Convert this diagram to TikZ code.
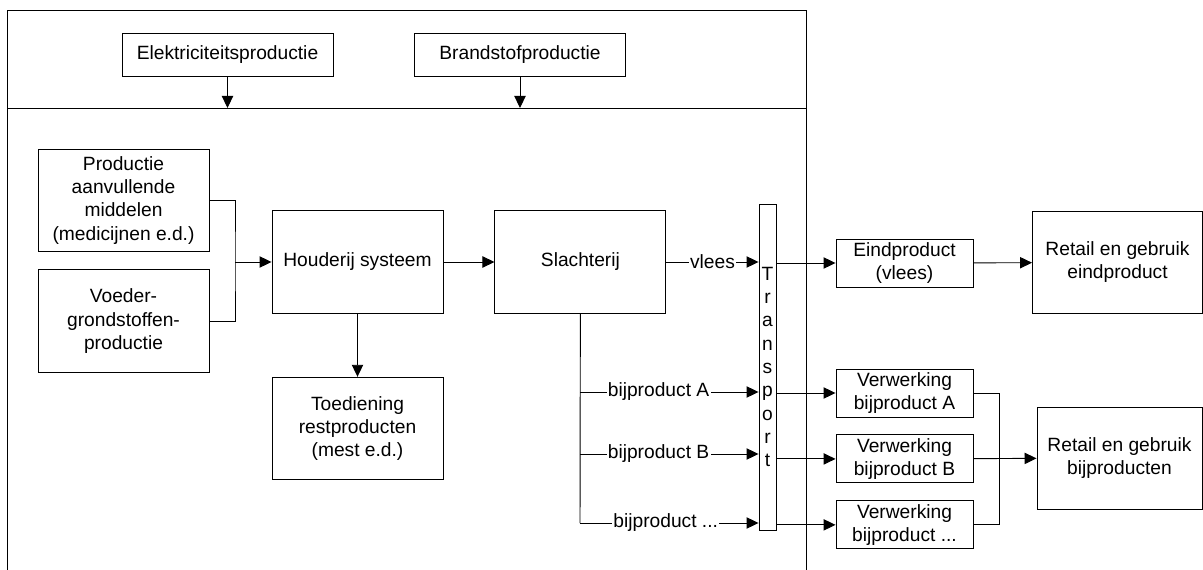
\documentclass[tikz,border=0pt]{standalone}
\usepackage{fontspec}
\setmainfont{Liberation Sans}
\usepackage{tikz}
\usetikzlibrary{
  arrows.meta,
  positioning,
  calc
}
\newcommand{\diagfont}{\fontsize{14.4}{17.3}\selectfont}
\tikzstyle{procbox} = [
  rectangle, draw, line width=0.7pt, inner sep=0pt,
  minimum width=128.25pt, minimum height=77pt,
  align=center, font=\diagfont
]
\tikzstyle{topbox} = [procbox, minimum width=158.25pt, minimum height=32.25pt]
\tikzstyle{smallbox} = [procbox, minimum width=102.75pt, minimum height=36pt]
\tikzstyle{barbox} = [procbox, minimum width=12.75pt, minimum height=244.5pt,
  font=\fontsize{14.4}{17.5}\selectfont]
\tikzstyle{flowlabel} = [fill=white, inner sep=1pt, font=\diagfont]
\tikzstyle{linestyle} = [line width=0.7pt]
\tikzstyle{arrowstyle} = [-{Triangle[length=9pt,width=8.5pt]}, line width=0.7pt]

\begin{document}
\begin{tikzpicture}[x=0.75pt, y=-0.75pt]
\useasboundingbox (0,0) rectangle (1203,570);

% --- Frame ---
\coordinate (frameTL) at (7,10);
\coordinate (frameTR) at (806,10);
\coordinate (divL) at (7,108);
\coordinate (divR) at (806,108);
\draw[linestyle] (7,572) -- (frameTL) -- (frameTR) -- (806,572);
\draw[linestyle] (divL) -- (divR);

% --- Energy inputs ---
\node[topbox] (elek) at (227.5,54.5) {Elektriciteitsproductie};
\node[topbox] (brand) at (520,54.5) {Brandstofproductie};

% --- Farm chain ---
\node[procbox] (prod) at (123.5,200.5) {Productie\\aanvullende\\middelen\\(medicijnen e.d.)};
\node[procbox, below=12.75pt of prod] (voeder) {Voeder-\\grondstoffen-\\productie};
\node[procbox] (houderij) at (357.5,262) {Houderij systeem};
\node[procbox, below=47.25pt of houderij] (toed) {Toediening\\restproducten\\(mest e.d.)};
\node[procbox, right=38.25pt of houderij] (slacht) {Slachterij};
\node[barbox] (transport) at (767.5,367) {T\\r\\a\\n\\s\\p\\o\\r\\t};

% --- Processing and retail ---
\node[smallbox] (eind) at (904.5,263) {Eindproduct\\(vlees)};
\node[procbox, minimum width=127.5pt] (retailE) at (1117.5,262.5) {Retail en gebruik\\eindproduct};
\node[smallbox] (verwA) at (904.5,393) {Verwerking\\bijproduct A};
\node[smallbox, below=12.75pt of verwA] (verwB) {Verwerking\\bijproduct B};
\node[smallbox, below=12.75pt of verwB] (verwC) {Verwerking\\bijproduct ...};
\node[procbox, minimum width=123.75pt, minimum height=76.5pt] (retailB) at (1119.5,458) {Retail en gebruik\\bijproducten};

% --- Arrows ---
\draw[arrowstyle] (elek.south) -- (elek.south |- divL);
\draw[arrowstyle] (brand.south) -- (brand.south |- divL);

\coordinate (join) at (235,262);
\draw[linestyle] (prod.east) -| (join) |- (voeder.east);
\draw[arrowstyle] (join) -- (houderij.west);
\draw[arrowstyle] (houderij) -- (slacht);
\draw[arrowstyle] (houderij) -- (toed);

\draw[arrowstyle] (slacht) -- (slacht -| transport.west) node[flowlabel, midway] {vlees};

\coordinate (bA) at (580,392);
\coordinate (bB) at (580,454);
\coordinate (bC) at (580,523);
\draw[linestyle] (slacht) -- (bC);
\draw[arrowstyle] (bA) -- (bA -| transport.west) node[flowlabel, pos=.44] {bijproduct A};
\draw[arrowstyle] (bB) -- (bB -| transport.west) node[flowlabel, pos=.44] {bijproduct B};
\draw[arrowstyle] (bC) -- (bC -| transport.west) node[flowlabel, pos=.48] {bijproduct ...};

\draw[arrowstyle] (transport.east |- eind.west) -- (eind.west);
\draw[arrowstyle] (eind) -- (retailE);
\draw[arrowstyle] (transport.east |- verwA.west) -- (verwA.west);
\draw[arrowstyle] (transport.east |- verwB.west) -- (verwB.west);
\draw[arrowstyle] (transport.east |- verwC.west) -- (verwC.west);

\coordinate (vjoin) at (999,458);
\draw[linestyle] (verwA.east) -| (vjoin) |- (verwC.east);
\draw[arrowstyle] (verwB) -- (retailB);

\end{tikzpicture}
\end{document}
